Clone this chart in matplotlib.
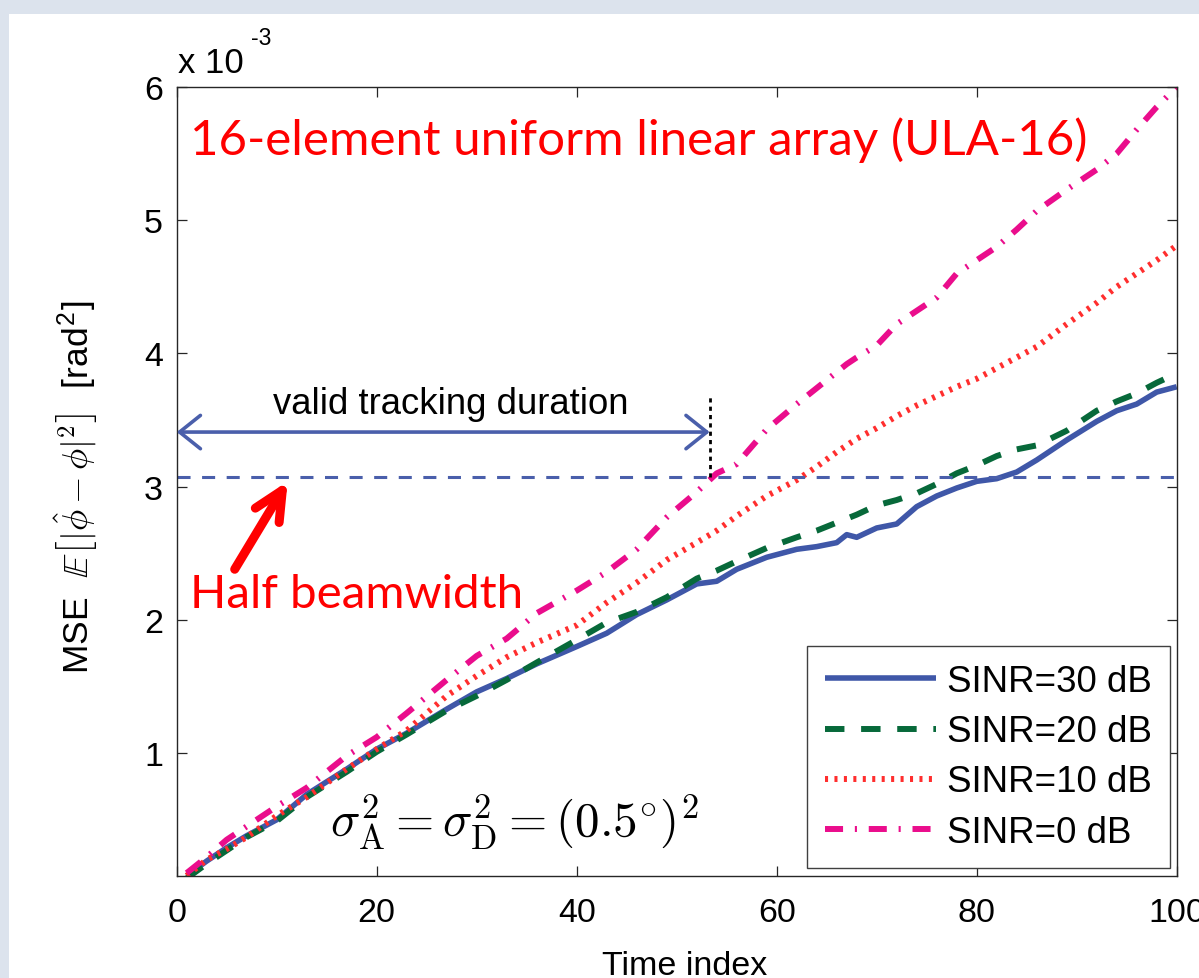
import matplotlib
matplotlib.use('Agg')
import matplotlib.pyplot as plt
from matplotlib.patches import Rectangle

# ---------------- data (MSE in units of 1e-3 rad^2) ----------------
time_index = [1, 3, 5, 7, 10, 13, 17, 20, 23, 27, 30, 33, 36, 40, 43, 46, 49, 52, 54, 56,
              59, 62, 64, 66, 67, 68, 70, 72, 74, 76, 78, 80, 82, 84, 86, 89, 92, 94, 96, 98, 100]
mse_sinr30 = [0.08, 0.19, 0.29, 0.38, 0.50, 0.69, 0.88, 1.03, 1.15, 1.33, 1.46, 1.56, 1.67, 1.80,
              1.90, 2.04, 2.15, 2.27, 2.29, 2.38, 2.47, 2.53, 2.55, 2.58, 2.64, 2.62, 2.69, 2.72,
              2.85, 2.93, 2.99, 3.04, 3.06, 3.11, 3.20, 3.35, 3.49, 3.57, 3.62, 3.71, 3.75]
mse_sinr20 = [0.06, 0.17, 0.27, 0.37, 0.49, 0.67, 0.86, 1.01, 1.14, 1.32, 1.43, 1.55, 1.68, 1.85,
              1.98, 2.06, 2.17, 2.31, 2.37, 2.44, 2.54, 2.62, 2.67, 2.73, 2.76, 2.79, 2.86, 2.90,
              2.95, 3.02, 3.10, 3.16, 3.23, 3.28, 3.31, 3.42, 3.57, 3.64, 3.70, 3.78, 3.85]
mse_sinr10 = [0.08, 0.20, 0.28, 0.37, 0.53, 0.67, 0.88, 1.03, 1.17, 1.43, 1.58, 1.72, 1.83, 1.96,
              2.13, 2.28, 2.45, 2.58, 2.67, 2.78, 2.93, 3.05, 3.15, 3.26, 3.31, 3.36, 3.44, 3.53,
              3.61, 3.68, 3.75, 3.81, 3.89, 3.97, 4.05, 4.22, 4.38, 4.50, 4.60, 4.70, 4.81]
mse_sinr0 = [0.10, 0.22, 0.35, 0.45, 0.60, 0.74, 0.98, 1.12, 1.30, 1.55, 1.73, 1.86, 2.05, 2.22,
             2.36, 2.53, 2.77, 2.96, 3.10, 3.17, 3.43, 3.62, 3.74, 3.86, 3.92, 3.97, 4.06, 4.22,
             4.32, 4.42, 4.60, 4.70, 4.80, 4.93, 5.07, 5.23, 5.38, 5.50, 5.68, 5.85, 6.00]
series_labels = ['SINR=30 dB', 'SINR=20 dB', 'SINR=10 dB', 'SINR=0 dB']
x_ticks = [0, 20, 40, 60, 80, 100]
y_ticks = [1, 2, 3, 4, 5, 6]
half_beamwidth = 3.07
valid_duration_end = 53.3

# ---------------- figure ----------------
plt.rcParams['font.family'] = ['Liberation Sans', 'DejaVu Sans']
plt.rcParams['mathtext.fontset'] = 'cm'
plt.rcParams['lines.scale_dashes'] = False

W, H = 1199, 979
fig = plt.figure(figsize=(W / 100, H / 100), dpi=100, facecolor='#dce3ed')
fig.add_artist(Rectangle((9 / W, 0), 1, 1 - 15 / H, transform=fig.transFigure,
                         facecolor='white', edgecolor='none', zorder=-10))
ax = fig.add_axes([176.7 / W, 1 - 876.7 / H, 1000 / W, 788.7 / H])

styles = [
    dict(color='#3f57a8', lw=4.0, ls='-'),
    dict(color='#07693a', lw=4.3, ls=(0, (14, 12))),
    dict(color='#ff2e2e', lw=4.3, ls=(0, (2.2, 4.6))),
    dict(color='#ea0d8c', lw=4.3, ls=(0, (13, 8.5, 1.5, 8.5))),
]
series = [mse_sinr30, mse_sinr20, mse_sinr10, mse_sinr0]
for vals, lab, st in zip(series, series_labels, styles):
    ax.plot(time_index, vals, label=lab, color=st['color'], lw=st['lw'],
            linestyle=st['ls'], solid_capstyle='butt', dash_capstyle='butt')

ax.set_xlim(0, 100)
ax.set_ylim(0.08, 6)
ax.set_xticks(x_ticks)
ax.set_yticks(y_ticks)
ax.tick_params(direction='in', length=7.5, width=0.9, top=True, right=True,
               labelsize=24.5, colors='#262626', labelcolor='black')
ax.tick_params(axis='x', pad=15)
ax.tick_params(axis='y', pad=10)
for s in ax.spines.values():
    s.set_linewidth(1.0)
    s.set_color('#262626')

# half beamwidth line
ax.axhline(half_beamwidth, color='#4a5fab', lw=2.2, linestyle=(0, (9.4, 8.3)))
# valid tracking duration arrow
ax.annotate('', xy=(0, 3.41), xytext=(valid_duration_end, 3.41),
            arrowprops=dict(arrowstyle='<->,head_length=1.5,head_width=1.2',
                            color='#4a5fab', lw=2.6, shrinkA=0, shrinkB=0,
                            mutation_scale=10))
ax.plot([valid_duration_end, valid_duration_end], [half_beamwidth, 3.67],
        color='black', lw=2.0, linestyle=(0, (3, 3)))
# red arrow to half beamwidth
ax.annotate('', xy=(11.1, 3.04), xytext=(5.8, 2.38),
            arrowprops=dict(arrowstyle='->,head_length=2.1,head_width=1.0',
                            color='red', lw=6.5, shrinkA=0, shrinkB=0,
                            mutation_scale=10, capstyle='round', joinstyle='round'))

leg = ax.legend(loc='lower right', bbox_to_anchor=(0.9933, 0.0098), borderaxespad=0,
                fontsize=26.5, handlelength=3.0, handletextpad=0.3, labelspacing=0.41,
                borderpad=0.5, frameon=True, fancybox=False, edgecolor='#404040',
                framealpha=1)
leg.get_frame().set_linewidth(1.0)

# ---------------- texts ----------------
t_title = fig.text(190 / W, 1 - 155 / H, '16-element uniform linear array (ULA-16)',
                   color='red', family=['Lato', 'DejaVu Sans'], fontsize=38,
                   ha='left', va='baseline')
t_half = fig.text(190 / W, 1 - 608 / H, 'Half beamwidth', color='red',
                  family=['Lato', 'DejaVu Sans'], fontsize=36, ha='left', va='baseline')
t_valid = fig.text(451 / W, 1 - 414 / H, 'valid tracking duration', fontsize=25,
                   ha='center', va='baseline')
t_sigma = fig.text(330 / W, 1 - 837 / H,
                   r'$\sigma_{\mathrm{A}}^2=\sigma_{\mathrm{D}}^2=(0.5^{\circ})^2$',
                   fontsize=30, ha='left', va='baseline')
fig.text(178 / W, 1 - 73 / H, 'x 10', fontsize=25, ha='left', va='baseline')
fig.text(251 / W, 1 - 45 / H, '-3', fontsize=16.5, ha='left', va='baseline')
fig.text(685 / W, 1 - 975 / H, 'Time index', fontsize=24.5, ha='center', va='baseline')
fig.text(76 / W, 1 - 487 / H,
         r'MSE  $\mathbb{E}\left[|\hat{\phi}-\phi|^2\right]$  [rad$^{\mathregular{2}}$]',
         rotation=90, fontsize=25.5, ha='center', va='center')

fig.canvas.draw()
r = fig.canvas.get_renderer()
for t, target in [(t_title, 898), (t_half, 333), (t_valid, 355), (t_sigma, 369)]:
    w = t.get_window_extent(r).width
    t.set_fontsize(t.get_fontsize() * target / w)

fig.savefig('out.png', dpi=100, facecolor=fig.get_facecolor())
